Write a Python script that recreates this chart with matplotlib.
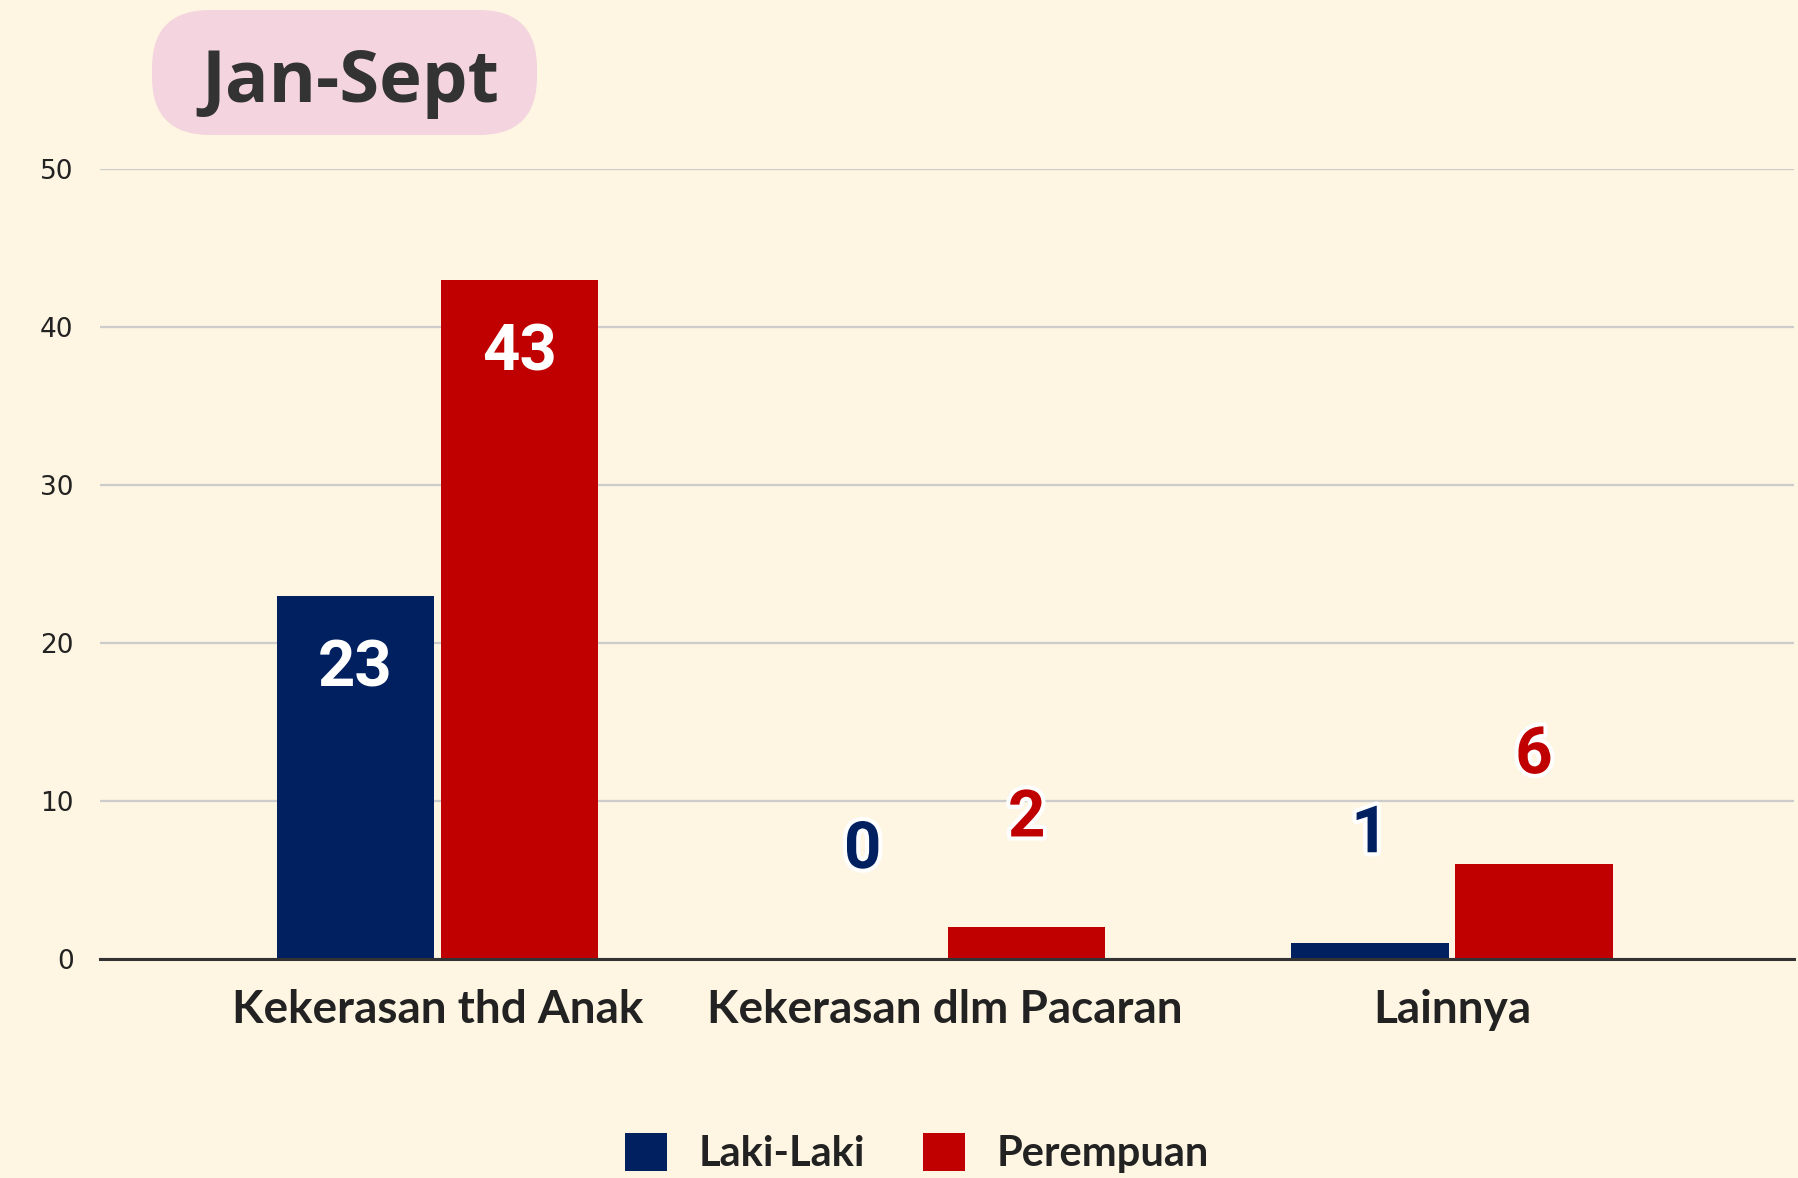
import matplotlib.pyplot as plt
import matplotlib.patheffects as pe
from matplotlib.patches import FancyBboxPatch
import numpy as np

# data
categories = ["Kekerasan thd Anak", "Kekerasan dlm Pacaran", "Lainnya"]
laki = [23, 0, 1]
perempuan = [43, 2, 6]
series_names = ["Laki-Laki", "Perempuan"]
yticks = [0, 10, 20, 30, 40, 50]
badge_text = "Jan-Sept"

BG = "#FEF5E2"
NAVY = "#002060"
RED = "#C00000"
PINK = "#F3D4DF"

fig = plt.figure(figsize=(17.98, 11.78), dpi=100, facecolor=BG)
ax = fig.add_axes([0.0556, 0.186, 0.9424, 0.6706], facecolor=BG)

x = np.arange(len(categories))
w = 0.310
off = 0.1617
b1 = ax.bar(x - off, laki, width=w, color=NAVY, label=series_names[0], zorder=3)
b2 = ax.bar(x + off, perempuan, width=w, color=RED, label=series_names[1], zorder=3)

# data labels: inside (white) when the bar is tall, above it otherwise
halo = [pe.withStroke(linewidth=6, foreground="white")]
for bars, vals, col in ((b1, laki, NAVY), (b2, perempuan, RED)):
    for rect, v in zip(bars, vals):
        cx = rect.get_x() + rect.get_width() / 2
        if v >= 10:
            ax.annotate(str(v), xy=(cx, v), xytext=(0, -53), textcoords="offset points",
                        ha="center", va="center", fontsize=47, fontweight="bold",
                        family="Roboto", color="white", zorder=5)
        else:
            ax.annotate(str(v), xy=(cx, v), xytext=(0, 78), textcoords="offset points",
                        ha="center", va="center", fontsize=47, fontweight="bold",
                        family="Roboto", color=col, path_effects=halo, zorder=5)

ax.set_xlim(-0.665, 2.675)
ax.set_ylim(0, 50)
ax.set_yticks(yticks)
ax.yaxis.grid(True, color="#CCCCCC", linewidth=1.6, zorder=0)
ax.set_axisbelow(True)
for s in ("top", "right", "left"):
    ax.spines[s].set_visible(False)
ax.spines["bottom"].set_color("#333333")
ax.spines["bottom"].set_linewidth(2.2)
ax.spines["bottom"].set_zorder(4)

ax.tick_params(axis="y", length=0, pad=19, labelsize=19, labelcolor="#222222")
ax.tick_params(axis="x", length=0, pad=22)
ax.set_xticks(x)
ax.set_xticklabels(categories, fontsize=33, fontweight="bold", family="Lato", color="#222222")

# legend at the bottom
leg = fig.legend(loc="center", bbox_to_anchor=(917 / 1798, 1 - 1153 / 1178),
                 ncol=2, frameon=False, prop={"family": "Lato", "weight": "bold", "size": 30},
                 handlelength=1.0, handleheight=1.05, handletextpad=0.75, columnspacing=1.4)
for t in leg.get_texts():
    t.set_color("#222222")

# pink badge with period label
badge = FancyBboxPatch((1.52, 10.43), 3.85, 1.25, boxstyle="round,pad=0,rounding_size=0.58",
                       transform=fig.dpi_scale_trans, facecolor=PINK, edgecolor="none")
fig.patches.append(badge)
fig.text(3.50 / 17.98, 10.95 / 11.78, badge_text, ha="center", va="center",
         fontsize=52, fontweight="bold", family="Open Sans", color="#333333")

fig.savefig("out.png", dpi=100, facecolor=BG)
